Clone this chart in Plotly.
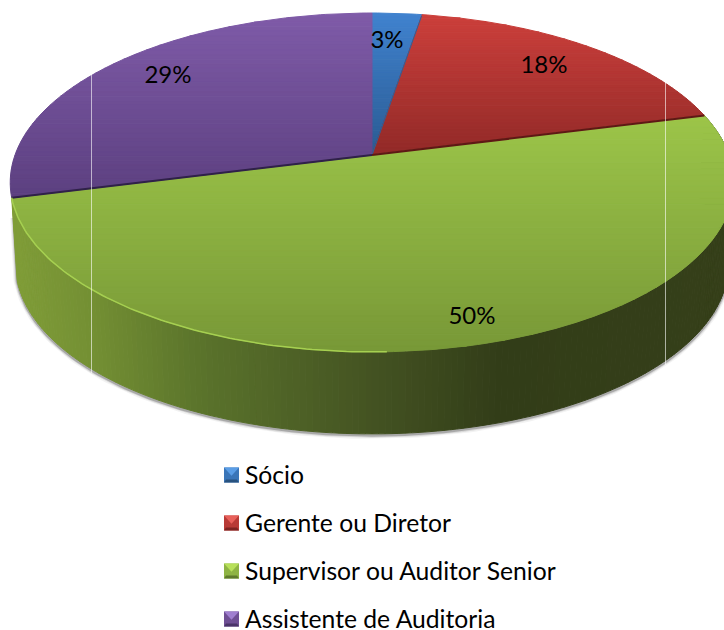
import math
import plotly.graph_objects as go

CATEGORIES = ["Sócio", "Gerente ou Diretor", "Supervisor ou Auditor Senior", "Assistente de Auditoria"]
VALUES = [2.6, 18.4, 50.0, 29.0]
LABELS = ["3%", "18%", "50%", "29%"]

# styling
SWATCH = [("#5a9de6", "#3a75b8", "#28527f"), ("#e8605a", "#b83a36", "#7e2422"),
          ("#b8e05a", "#8fb444", "#5f7a2c"), ("#a07fd0", "#6f4f94", "#4a3468")]
TOP_GRAD = [("#4083cf", "#2a5a92"), ("#cc3f3b", "#922a28"), ("#9cc549", "#789837"), ("#7f5ba8", "#5c4080")]
EDGE_COLORS = ["#2a5a92", "#5e1815", "#5e1815", "#2f2148"]
LABEL_XY = [(387, 42), (544, 66.5), (472, 318), (168, 77)]
SIDE_STOPS = [(10, "#809d38"), (92, "#738f33"), (200, "#5a732b"), (370, "#445322"),
              (500, "#323d18"), (720, "#353f19")]
SWATCH_X, SWATCH_Y, SWATCH_STEP, SWATCH_SIZE = 224.0, 467.5, 48.0, 15.0
LEGEND_TEXT_X = 245.0
LEGEND_TEXT_DY = 2.5

CX, CY, A, B, K = 372.0, 155.0, 357.0, 165.0, 0.162
DEPTH, SHRINK = 82.0, 0.985


def hex2rgb(h):
    return tuple(int(h[i:i + 2], 16) for i in (1, 3, 5))


def mix(c1, c2, t):
    a, b = hex2rgb(c1), hex2rgb(c2)
    return "rgb(%d,%d,%d)" % tuple(round(a[i] + (b[i] - a[i]) * t) for i in range(3))


def project(theta, r=1.0):
    u, v = r * math.sin(theta), -r * math.cos(theta)
    d = 1 - K * v
    return CX + A * u / d, CY + B * v / d


def lower(p):
    return CX + (p[0] - CX) * SHRINK, p[1] + DEPTH


def clip(poly, y0, keep_below):
    out = []
    n = len(poly)
    inside = (lambda p: p[1] >= y0) if keep_below else (lambda p: p[1] <= y0)
    for i in range(n):
        a, b = poly[i], poly[(i + 1) % n]
        ia, ib = inside(a), inside(b)
        if ia:
            out.append(a)
        if ia != ib:
            t = (y0 - a[1]) / (b[1] - a[1])
            out.append((a[0] + (b[0] - a[0]) * t, y0))
    return out


def side_color(x):
    for (x0, c0), (x1, c1) in zip(SIDE_STOPS, SIDE_STOPS[1:]):
        if x <= x1:
            return mix(c0, c1, max(0.0, (x - x0) / (x1 - x0)))
    return mix(SIDE_STOPS[-1][1], SIDE_STOPS[-1][1], 0)


def poly_trace(poly, color, lw=1):
    xs = [p[0] for p in poly] + [poly[0][0]]
    ys = [p[1] for p in poly] + [poly[0][1]]
    return go.Scatter(x=xs, y=ys, mode="lines", fill="toself", fillcolor=color,
                      line=dict(color=color, width=lw), hoverinfo="skip", showlegend=False)


def line_trace(pts, color, width):
    return go.Scatter(x=[p[0] for p in pts], y=[p[1] for p in pts], mode="lines",
                      line=dict(color=color, width=width), hoverinfo="skip", showlegend=False)


fig = go.Figure()

total = sum(VALUES)
bounds = [0.0]
for v in VALUES:
    bounds.append(bounds[-1] + v / total * 2 * math.pi)

# soft shadow under the front wall, running up the left end of the wall too
g0, g1 = bounds[2], bounds[3]
arc = [g0 + (g1 - g0) * i / 200 for i in range(201)]
low_rim = [lower(project(t)) for t in arc]
shadow = [(p[0], p[1] + 1.5) for p in low_rim]
end_top = project(g1)
shadow.append((end_top[0] + 2, end_top[1] + 20))
for w, col in ((7, "rgba(0,0,0,0.05)"), (4.5, "rgba(0,0,0,0.10)"), (2.5, "rgba(0,0,0,0.22)")):
    fig.add_trace(line_trace(shadow, col, w))

# front wall of the green slice
for i in range(len(arc) - 1):
    a, b = project(arc[i]), project(arc[i + 1])
    quad = [a, b, lower(b), lower(a)]
    fig.add_trace(poly_trace(quad, side_color((a[0] + b[0]) / 2)))

# top surface: each slice as horizontal gradient bands
BANDS = 40
for i in range(4):
    t0, t1 = bounds[i], bounds[i + 1]
    n = max(6, int((t1 - t0) * 60))
    poly = [(CX, CY)] + [project(t0 + (t1 - t0) * j / n) for j in range(n + 1)]
    ymin, ymax = min(p[1] for p in poly), max(p[1] for p in poly)
    for b in range(BANDS):
        y0 = ymin + (ymax - ymin) * b / BANDS
        y1 = ymin + (ymax - ymin) * (b + 1) / BANDS
        piece = clip(clip(poly, y0, True), y1, False)
        if len(piece) >= 3:
            fig.add_trace(poly_trace(piece, mix(TOP_GRAD[i][0], TOP_GRAD[i][1], (b + .5) / BANDS)))

# radial edges
center = (CX, CY)
fig.add_trace(line_trace([center, project(bounds[1], .99)], "#2f5f98", 1))
fig.add_trace(line_trace([center, project(bounds[2])], EDGE_COLORS[1], 2))
fig.add_trace(line_trace([center, project(bounds[3])], EDGE_COLORS[3], 2))

# light rim on the front of the green slice
rim_start = math.radians(178)
rim = [rim_start + (g1 - rim_start) * i / 100 for i in range(101)]
fig.add_trace(line_trace([project(t) for t in rim], "#a6d051", 1.5))

# percentage labels
fig.add_trace(go.Scatter(x=[p[0] for p in LABEL_XY], y=[p[1] for p in LABEL_XY], mode="text",
                         text=LABELS, textposition="middle center",
                         textfont=dict(family="Lato", size=24, color="#000000"),
                         hoverinfo="skip", showlegend=False))

# bevelled legend swatches
for i, (light, mid, dark) in enumerate(SWATCH):
    x0, y0 = SWATCH_X, SWATCH_Y + i * SWATCH_STEP
    s = SWATCH_SIZE
    c = (x0 + s / 2, y0 + s * .55)
    tl, tr, br, bl = (x0, y0), (x0 + s, y0), (x0 + s, y0 + s), (x0, y0 + s)
    fig.add_trace(poly_trace([tl, tr, br, bl], mid, 0))
    fig.add_trace(poly_trace([bl, br, (x0 + s - 2, y0 + s - 3), (x0 + 2, y0 + s - 3)], dark, 0))
    fig.add_trace(poly_trace([tl, tr, c], light, 0))

# legend entry names
fig.add_trace(go.Scatter(x=[LEGEND_TEXT_X] * 4,
                         y=[SWATCH_Y + SWATCH_SIZE / 2 + LEGEND_TEXT_DY + i * SWATCH_STEP for i in range(4)],
                         mode="text", text=CATEGORIES, textposition="middle right",
                         textfont=dict(family="Lato", size=24.7, color="#000000"),
                         hoverinfo="skip", showlegend=False, cliponaxis=False))

# thin light vertical seams of the source image
for x, y0, y1 in ((91.5, 75, 373), (665.5, 82, 365)):
    fig.add_shape(type="line", x0=x, x1=x, y0=y0, y1=y1, xref="x", yref="y",
                  line=dict(color="rgba(255,255,255,0.6)", width=1))

fig.update_layout(
    width=724, height=630, margin=dict(l=0, r=0, t=0, b=0),
    paper_bgcolor="#ffffff", plot_bgcolor="#ffffff", showlegend=False,
    xaxis=dict(range=[0, 724], visible=False, fixedrange=True),
    yaxis=dict(range=[630, 0], visible=False, fixedrange=True),
)
fig.write_html("out.html", config={"displayModeBar": False},
               post_script="document.body.style.margin='0';document.documentElement.style.overflow='hidden';")
